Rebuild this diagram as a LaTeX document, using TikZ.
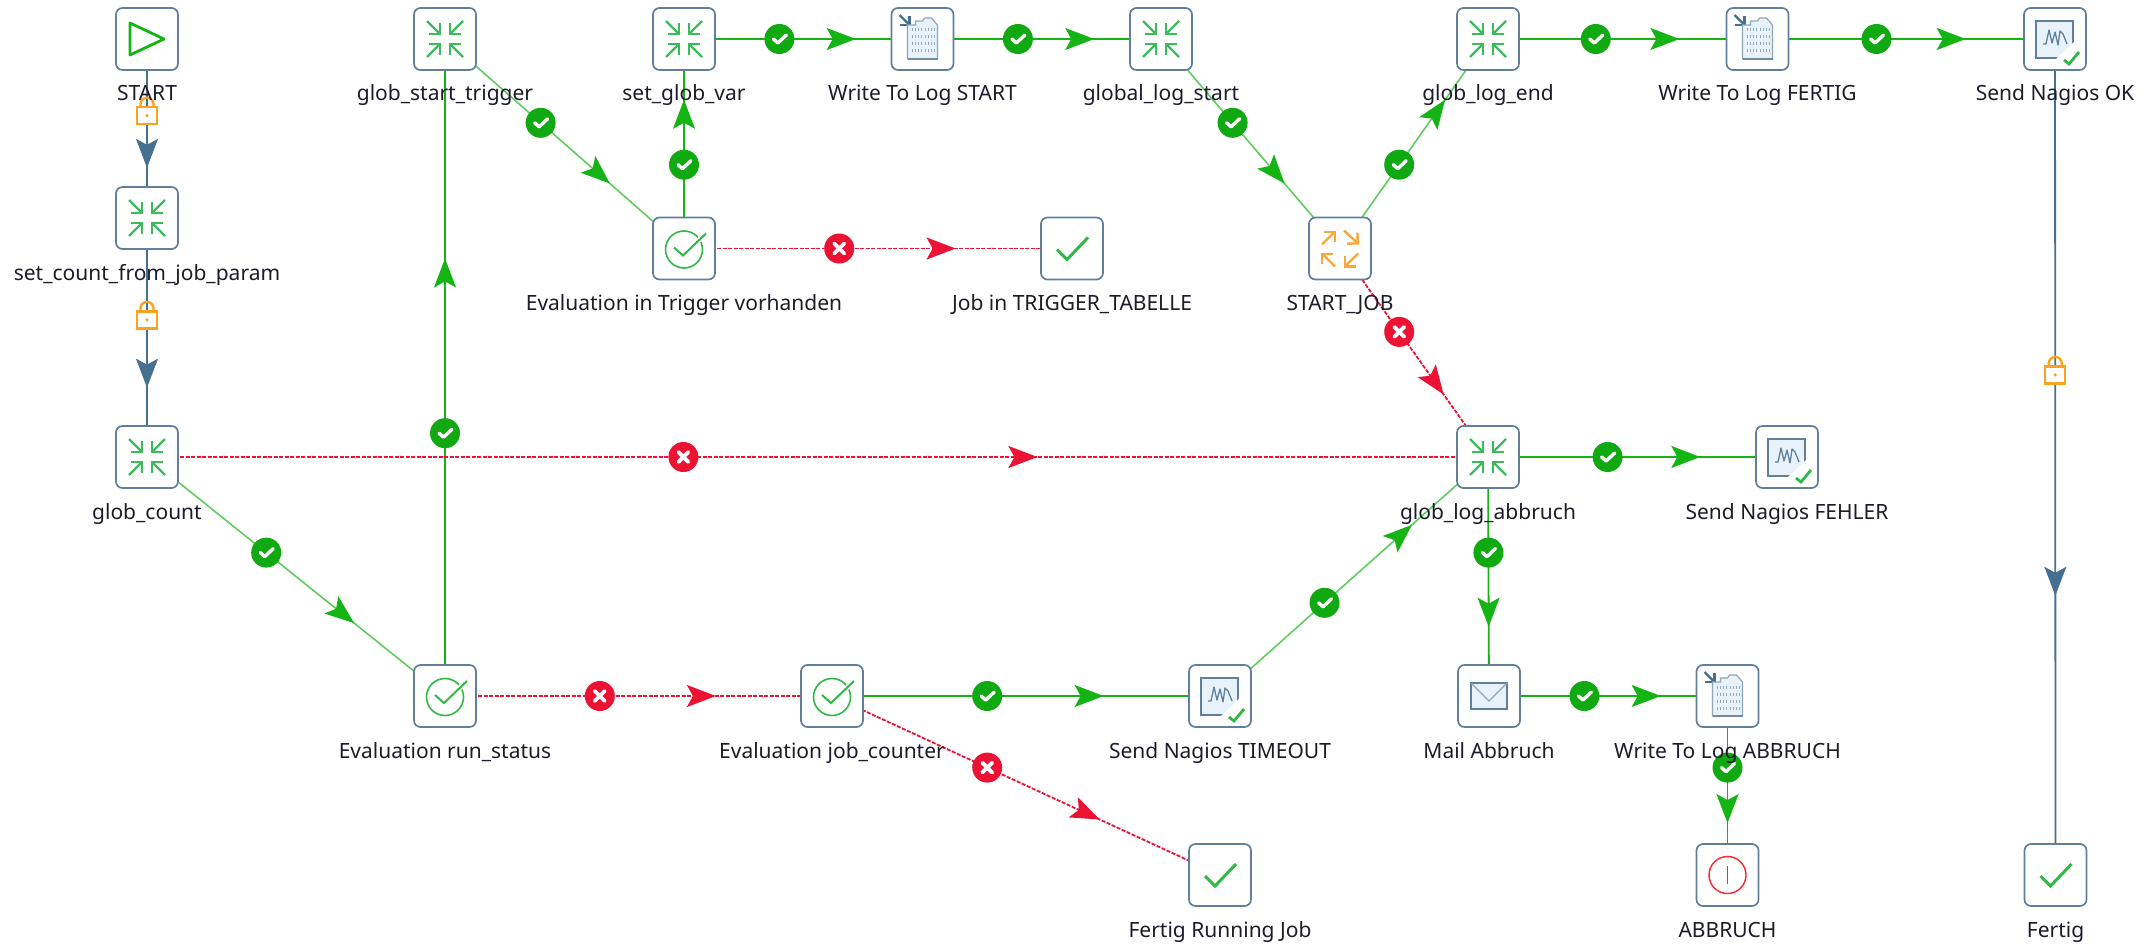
\documentclass[tikz,border=0pt]{standalone}
\usepackage{fontspec}
\setmainfont{Noto Sans}
\usetikzlibrary{arrows.meta,decorations.markings,backgrounds}
\definecolor{boxc}{HTML}{5F7F9A}
\definecolor{okc}{HTML}{14B414}
\definecolor{okb}{HTML}{11A911}
\definecolor{errc}{HTML}{EC1233}
\definecolor{lockc}{HTML}{45708F}
\definecolor{lockb}{HTML}{FBA31E}
\definecolor{mrg}{HTML}{3DBB5C}
\definecolor{frk}{HTML}{F9A63A}
\definecolor{pale}{HTML}{E8F2FA}
\definecolor{txt}{HTML}{1C1C2C}
\tikzset{
  jobbox/.style={draw=boxc,line width=1.7pt,rounded corners=6.5pt,fill=white,minimum size=62pt,inner sep=0pt},
  joblabel/.style={anchor=base,text=txt,font=\fontsize{21}{24}\selectfont,inner sep=0pt},
  tipat/.style={postaction={decorate,decoration={markings,mark=at position #1 with {\arrow{Stealth[length=29pt,width=22pt,inset=6pt]}}}}},
  tipok/.style={postaction={decorate,decoration={markings,mark=at position #1 with {\arrow[okc]{Stealth[length=29pt,width=22pt,inset=6pt]}}}}},
  okedge/.style={draw=okc,line width=1.8pt},
  okdiag/.style={draw=okc!68!white,line width=1.6pt},
  erredge/.style={draw=errc,line width=1.8pt,dash pattern=on 4pt off 1.5pt},
  lockedge/.style={draw=lockc,line width=1.8pt},
  okbadge/.style={circle,fill=okb,draw=none,minimum size=30pt,inner sep=0pt,solid,
    path picture={\draw[white,line width=3.4pt,line cap=round,line join=round,solid]
      ([shift={(-6,0)}]path picture bounding box.center)--([shift={(-1.5,4)}]path picture bounding box.center)--([shift={(7,-4)}]path picture bounding box.center);}},
  errbadge/.style={circle,fill=errc,draw=none,minimum size=30pt,inner sep=0pt,solid,
    path picture={\draw[white,line width=3.8pt,line cap=round,solid]
      ([shift={(-5,-5)}]path picture bounding box.center)--([shift={(5,5)}]path picture bounding box.center)
      ([shift={(-5,5)}]path picture bounding box.center)--([shift={(5,-5)}]path picture bounding box.center);}},
  lockbadge/.style={rectangle,fill=none,draw=none,minimum width=26pt,minimum height=40pt,inner sep=0pt,solid,
    path picture={\begin{scope}[shift={(path picture bounding box.center)}]
      \draw[lockb,line width=2.4pt,solid] (-6.5,-7) -- (-6.5,-10) arc[start angle=180,end angle=360,x radius=6.5,y radius=6.5] -- (6.5,-7);
      \draw[lockb,line width=2.4pt,fill=white,solid] (-10,-7) rectangle (10,10);
      \fill[lockb] (0,1.5) circle (1.7);
    \end{scope}}},
  icmerge/.pic={
    \begin{scope}[mrg,line width=2.4pt,-{Straight Barb[length=7.5pt,width=15pt]}]
      \draw (-18,-18)--(-4,-4); \draw (18,-18)--(4,-4); \draw (-18,18)--(-4,4); \draw (18,18)--(4,4);
    \end{scope}},
  icfork/.pic={
    \begin{scope}[frk,line width=2.4pt,-{Straight Barb[length=7.5pt,width=15pt]}]
      \draw (-18,-4)--(-4,-18); \draw (4,-18)--(19,-4); \draw (-5,18)--(-19,4); \draw (18,5)--(4,19);
    \end{scope}},
  icstart/.pic={\draw[okc,line width=2.8pt,line join=round] (-17,-16)--(17,0)--(-17,16)--cycle;},
  iceval/.pic={
    \draw[mrg!70!okc,line width=1.6pt] (0,1) circle (18.5);
    \draw[white,line width=5pt] (-1,7)--(22,-15);
    \draw[mrg!70!okc,line width=2pt,line join=miter] (-10,-1)--(-1,7)--(22,-15);},
  icok/.pic={\draw[mrg!70!okc,line width=3pt] (-15,1)--(-5,11)--(16,-11);},
  iclog/.pic={
    \draw[lockc,line width=2.4pt,-{Straight Barb[length=6.5pt,width=13pt]}] (-23,-24)--(-12,-13);
    \fill[pale] (-15,-14)--(-7,-14)--(-7,-18)--(0,-18)--(2,-21)--(9,-21)--(15,-14)--(15,20)--(-15,20)--cycle;
    \draw[boxc!70,line width=1.2pt] (-15,-14)--(-7,-14)--(-7,-18)--(0,-18)--(2,-21)--(9,-21)--(15,-14)--(15,20)--(-15,20)--cycle;
    \draw[boxc!90,line width=2pt] (-15,20)--(15,20);
    \foreach \r in {-11,-4,3,10}{\draw[boxc!65,line width=3pt,dash pattern=on 1.6pt off 1.4pt] (-11,\r+2)--(-1,\r+2) (2,\r+2)--(12,\r+2);}},
  icnag/.pic={
    \fill[pale] (-19,-18) rectangle (18,19);
    \draw[boxc,line width=2.4pt] (-19,-18) rectangle (18,19);
    \fill[white] (20,2)--(20,21)--(0,21)--cycle;
    \draw[boxc,line width=1.3pt,line join=round] (-12,5)--(-9,5)--(-6,-9)--(-3,4)--(0,-7)--(3,6)--(5,-8)--(8,-5)--(12,5);
    \draw[mrg!70!okc,line width=2.8pt] (9,21)--(14,25)--(24,13);},
  icmail/.pic={
    \fill[pale] (-18,-13) rectangle (18,13);
    \draw[boxc,line width=2pt] (-18,-13) rectangle (18,13);
    \draw[boxc!70,line width=1.1pt] (-18,-13)--(0,5)--(18,-13);},
  icstop/.pic={
    \draw[red!85!white,line width=1.4pt] (0,0) circle (18.5);
    \draw[red!85!white,line width=1.6pt] (0,-9)--(0,9);},
}
\newcommand\job[6][0]{%
  \node[jobbox] (#2) at (#3,#4) {};
  \pic at (#2) {#5};
  \node[joblabel] (#2-l) at ([yshift=-62pt,xshift=#1pt]#2.center) {#6};
}
\pgfdeclarelayer{edges}
\pgfsetlayers{edges,main}
\begin{document}
\begin{tikzpicture}[x=1pt,y=-1pt]
\useasboundingbox (0,0) rectangle (2149,944);
\job{start}{147}{39}{icstart}{START}
\job{setcount}{147}{218}{icmerge}{set\_count\_from\_job\_param}
\job{globcount}{147}{457}{icmerge}{glob\_count}
\job{starttrig}{445}{39}{icmerge}{glob\_start\_trigger}
\job{setglob}{684}{39}{icmerge}{set\_glob\_var}
\job{logstart}{922.5}{39}{iclog}{Write To Log START}
\job{globlogstart}{1161}{39}{icmerge}{global\_log\_start}
\job{logendg}{1488}{39}{icmerge}{glob\_log\_end}
\job{logfertig}{1757.5}{39}{iclog}{Write To Log FERTIG}
\job{nagok}{2055}{39}{icnag}{Send Nagios OK}
\job{evaltrig}{684}{248.5}{iceval}{Evaluation in Trigger vorhanden}
\job{jobtrig}{1072}{248.5}{icok}{Job in TRIGGER\_TABELLE}
\job{startjob}{1340}{248.5}{icfork}{START\_JOB}
\job{abbr}{1488}{457}{icmerge}{glob\_log\_abbruch}
\job{nagfehler}{1787}{457}{icnag}{Send Nagios FEHLER}
\job{evalrun}{445}{696}{iceval}{Evaluation run\_status}
\job{evaljob}{832}{696}{iceval}{Evaluation job\_counter}
\job{nagtime}{1220}{696}{icnag}{Send Nagios TIMEOUT}
\job{mail}{1489}{696}{icmail}{Mail Abbruch}
\job{logabbr}{1727.5}{696}{iclog}{Write To Log ABBRUCH}
\job{stopjob}{1727.5}{875}{icstop}{ABBRUCH}
\job{fertigrun}{1220}{875}{icok}{Fertig Running Job}
\job{fertig}{2055.5}{875}{icok}{Fertig}
\begin{pgfonlayer}{edges}
\fill[white] (0,0) rectangle (2149,944);
\draw[lockedge,tipat=.72,color=lockc] (start.center) -- node[pos=.42,lockbadge] (b1) {} (setcount.center);
\draw[lockedge,tipat=.71,color=lockc] (setcount.center) -- node[pos=.42,lockbadge] (b2) {} (globcount.center);
\draw[lockedge,tipat=.666,color=lockc] (nagok.center) -- node[pos=.40,lockbadge] (b3) {} (fertig.center);
\draw[okdiag,tipok=.695] (globcount.center) -- node[pos=.40,okbadge] (b4) {} (evalrun.center);
\draw[okedge,tipat=.666,color=okc] (evalrun.center) -- node[pos=.40,okbadge] (b5) {} (starttrig.center);
\draw[okdiag,tipok=.69] (starttrig.center) -- node[pos=.40,okbadge] (b6) {} (evaltrig.center);
\draw[okedge,tipat=.71,color=okc] (evaltrig.center) -- node[pos=.40,okbadge] (b7) {} (setglob.center);
\draw[okedge,tipat=.72,color=okc] (setglob.center) -- node[pos=.40,okbadge] (b8) {} (logstart.center);
\draw[okedge,tipat=.72,color=okc] (logstart.center) -- node[pos=.40,okbadge] (b9) {} (globlogstart.center);
\draw[okdiag,tipok=.69] (globlogstart.center) -- node[pos=.40,okbadge] (b10) {} (startjob.center);
\draw[okdiag,tipok=.71] (startjob.center) -- node[pos=.40,okbadge] (b11) {} (logendg.center);
\draw[okedge,tipat=.71,color=okc] (logendg.center) -- node[pos=.40,okbadge] (b12) {} (logfertig.center);
\draw[okedge,tipat=.70,color=okc] (logfertig.center) -- node[pos=.40,okbadge] (b13) {} (nagok.center);
\draw[okedge,tipat=.71,color=okc] (abbr.center) -- node[pos=.40,okbadge] (b14) {} (nagfehler.center);
\draw[okedge,tipat=.71,color=okc] (abbr.center) -- node[pos=.40,okbadge] (b15) {} (mail.center);
\draw[okedge,tipat=.72,color=okc] (mail.center) -- node[pos=.40,okbadge] (b16) {} (logabbr.center);
\draw[okedge,tipat=.71,color=okc] (logabbr.center) -- node[pos=.40,okbadge] (b17) {} (stopjob.center);
\draw[okedge,tipat=.70,color=okc] (evaljob.center) -- node[pos=.40,okbadge] (b18) {} (nagtime.center);
\draw[okdiag,tipok=.716] (nagtime.center) -- node[pos=.39,okbadge] (b19) {} (abbr.center);
\draw[erredge,tipat=.70,color=errc] (evaltrig.center) -- node[pos=.40,errbadge] (r1) {} (jobtrig.center);
\draw[erredge,tipat=.70,color=errc] (startjob.center) -- node[pos=.40,errbadge] (r2) {} (abbr.center);
\draw[erredge,tipat=.664,color=errc] (globcount.center) -- node[pos=.40,errbadge] (r3) {} (abbr.center);
\draw[erredge,tipat=.70,color=errc] (evalrun.center) -- node[pos=.40,errbadge] (r4) {} (evaljob.center);
\draw[erredge,tipat=.69,color=errc] (evaljob.center) -- node[pos=.40,errbadge] (r5) {} (fertigrun.center);
\end{pgfonlayer}
\end{tikzpicture}
\end{document}
